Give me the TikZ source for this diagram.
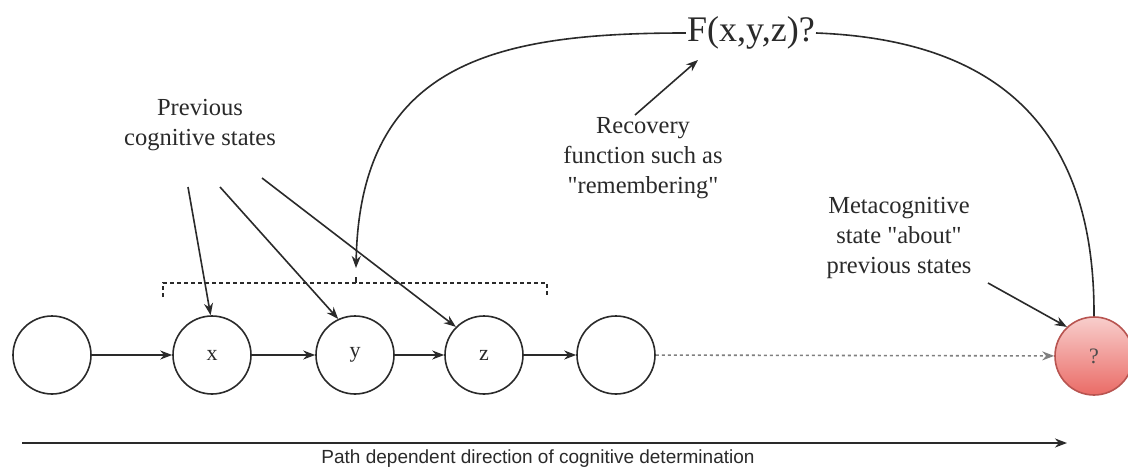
\documentclass[tikz,border=0pt]{standalone}
\usepackage{fontspec}
\setmainfont{Liberation Serif}[Ligatures=TeXOff]
\newfontfamily\sansf{Liberation Sans}
\usetikzlibrary{arrows.meta}
\definecolor{ink}{HTML}{2A2A2A}
\definecolor{redtop}{HTML}{F8CECC}
\definecolor{redbot}{HTML}{EA6B66}
\definecolor{redline}{HTML}{B85450}
\begin{document}
\begin{tikzpicture}[x=1pt,y=-1pt,
 state/.style={circle,draw=ink,line width=1.6pt,minimum size=78pt,inner sep=0pt,font=\fontsize{22}{26}\selectfont,text=ink},
 conn/.style={-{Stealth[length=12pt,width=9pt]},line width=1.6pt,draw=ink},
 lbl/.style={align=center,font=\fontsize{24.5}{30}\selectfont,text=ink,inner sep=0pt}]
\useasboundingbox (0,0) rectangle (1128,468);
\fill[white] (0,0) rectangle (1128,468);

% states
\node[state] (a) at (52,355) {};
\node[state] (x) at (212,355) {\raisebox{-3pt}{x}};
\node[state] (y) at (355,355) {\raisebox{-3pt}{y}};
\node[state] (z) at (484,355) {\raisebox{-3pt}{z}};
\node[state] (e) at (616,355) {};
\node[state,draw=redline,top color=redtop,bottom color=redbot,text=black!70] (m) at (1094,356) {?};

\draw[conn] (a) -- (x);
\draw[conn] (x) -- (y);
\draw[conn] (y) -- (z);
\draw[conn] (z) -- (e);
\draw[conn,draw=black!50,dash pattern=on 3pt off 3pt] (e) -- (m);

% previous cognitive states
\node[lbl] (prev) at (200,125) {Previous\\cognitive states};
\coordinate (p1) at (188,187);
\coordinate (p2) at (220,187);
\coordinate (p3) at (262,178);
\draw[conn] (p1) -- (x.92);
\draw[conn] (p2) -- (y.115);
\draw[conn] (p3) -- (z.135);

% bracket
\draw[ink,line width=1.4pt,dash pattern=on 4pt off 3pt] (163,297) -- (163,283) -- (547,283) -- (547,297);
\draw[ink,line width=1.4pt] (356,283) -- (356,277);
\coordinate (brk) at (356,268);

% F(x,y,z)?
\node[font=\fontsize{36}{40}\selectfont,text=ink,inner sep=1pt] (F) at (751,33) {F(x,y,z)?};
\draw[conn] (F.west) .. controls (500,33) and (360,60) .. (brk);
\draw[ink,line width=1.6pt] (F.east) .. controls (1000,40) and (1095,130) .. (m.north);

% recovery
\node[lbl] (rec) at (643,158) {Recovery\\function such as\\"remembering"};
\coordinate (r0) at (635,115);
\coordinate (r1) at (698,60);
\draw[conn] (r0) -- (r1);

% metacognitive
\node[lbl] (meta) at (899,238) {Metacognitive\\state "about"\\previous states};
\coordinate (m0) at (988,283);
\draw[conn] (m0) -- (m.133);

% bottom direction arrow
\coordinate (b0) at (22,443);
\coordinate (b1) at (1067,443);
\draw[conn,line width=2.2pt] (b0) -- (b1);
\node[font=\sansf\fontsize{19}{21}\selectfont,text=ink] (path) at (538,459) {Path dependent direction of cognitive determination};
\end{tikzpicture}
\end{document}
